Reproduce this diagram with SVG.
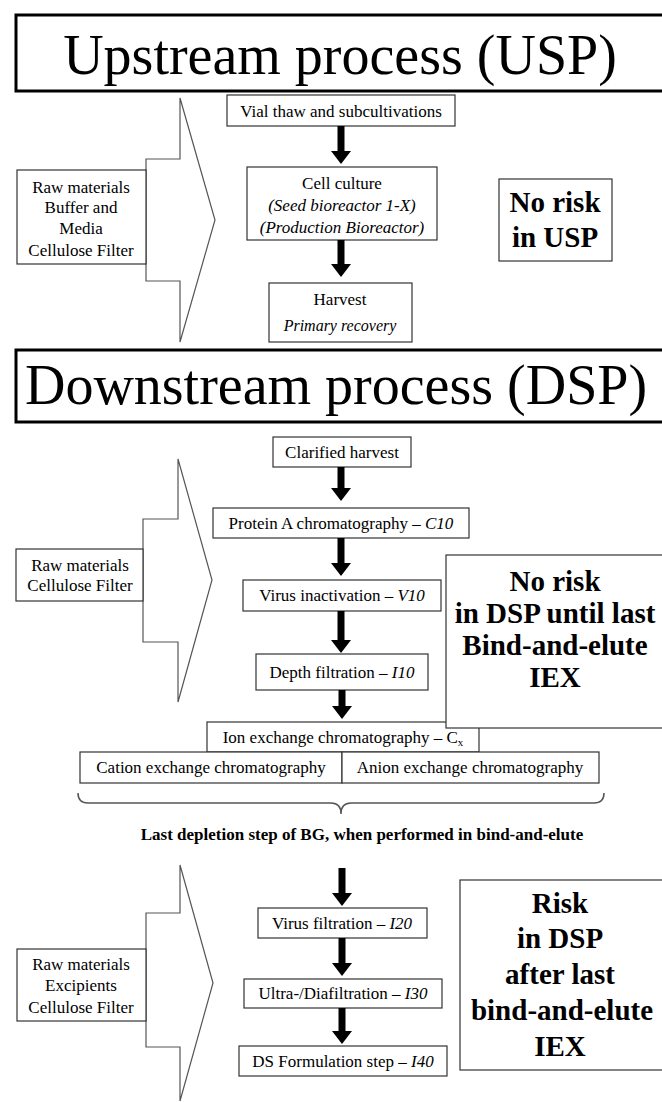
<svg xmlns="http://www.w3.org/2000/svg" width="662" height="1102" viewBox="0 0 662 1102">
  <defs>
    <marker id="head" markerUnits="userSpaceOnUse" markerWidth="13" markerHeight="20" viewBox="0 0 13 20" refX="0" refY="10" orient="auto">
      <path d="M0,0 L13,10 L0,20 Z" fill="#000"/>
    </marker>
  </defs>
  <style>
    text { font-family: "Liberation Serif", "Times New Roman", serif; fill: #000; }
    .hdr { fill: #fff; stroke: #000; stroke-width: 3; }
    .hdr-t { font-size: 56px; text-anchor: middle; }
    .box { fill: #fff; stroke: #333; stroke-width: 1.2; }
    .t { font-size: 17px; text-anchor: middle; }
    .ts { font-size: 16px; text-anchor: middle; }
    .it { font-style: italic; }
    .risk { font-size: 29px; font-weight: bold; text-anchor: middle; }
    .feed { fill: #fff; stroke: #555; stroke-width: 1.2; }
    .flow { stroke: #000; stroke-width: 7; fill: none; marker-end: url(#head); }
    .brace { fill: none; stroke: #555; stroke-width: 1.5; }
  </style>
  <rect width="662" height="1102" fill="#fff"/>

  <!-- Upstream section -->
  <g id="usp-header">
    <rect class="hdr" x="16" y="15" width="660" height="76"/>
    <text class="hdr-t" x="340" y="74">Upstream process (USP)</text>
  </g>

  <g id="usp-inputs">
    <path class="feed" d="M146,159 L180,159 L180,98 L215,220 L180,342 L180,281 L146,281 Z"/>
    <rect class="box" x="17" y="170" width="129" height="94"/>
    <text class="t" x="81" y="193">Raw materials</text>
    <text class="t" x="81" y="213">Buffer and</text>
    <text class="t" x="81" y="234">Media</text>
    <text class="t" x="81" y="256">Cellulose Filter</text>
  </g>

  <g id="vial-thaw">
    <rect class="box" x="227" y="95" width="228" height="31"/>
    <text class="t" x="341" y="117">Vial thaw and subcultivations</text>
  </g>

  <g id="cell-culture">
    <rect class="box" x="247" y="167" width="190" height="73"/>
    <text class="t" x="342" y="189">Cell culture</text>
    <text class="t it" x="342" y="211">(Seed bioreactor 1-X)</text>
    <text class="t it" x="342" y="233">(Production Bioreactor)</text>
  </g>

  <g id="harvest">
    <rect class="box" x="269" y="283" width="143" height="59"/>
    <text class="t" x="340" y="305">Harvest</text>
    <text class="ts it" x="340" y="331">Primary recovery</text>
  </g>

  <g id="usp-risk">
    <rect class="box" x="499" y="179" width="113" height="82"/>
    <text class="risk" x="555" y="212">No risk</text>
    <text class="risk" x="555" y="247">in USP</text>
  </g>

  <!-- Downstream section -->
  <g id="dsp-header">
    <rect class="hdr" x="16" y="350" width="660" height="72"/>
    <text class="hdr-t" x="336" y="404">Downstream process (DSP)</text>
  </g>

  <g id="dsp-inputs">
    <path class="feed" d="M143,519 L178,519 L178,459 L212,580 L178,702 L178,642 L143,642 Z"/>
    <rect class="box" x="16" y="549" width="127" height="52"/>
    <text class="t" x="80" y="571">Raw materials</text>
    <text class="t" x="80" y="591">Cellulose Filter</text>
  </g>

  <g id="clarified-harvest">
    <rect class="box" x="273" y="437" width="138" height="30"/>
    <text class="t" x="342" y="458">Clarified harvest</text>
  </g>

  <g id="protein-a">
    <rect class="box" x="213" y="508" width="256" height="30"/>
    <text class="t" x="341" y="529">Protein A chromatography – <tspan class="it">C10</tspan></text>
  </g>

  <g id="virus-inactivation">
    <rect class="box" x="243" y="580" width="198" height="31"/>
    <text class="t" x="342" y="601">Virus inactivation  – <tspan class="it">V10</tspan></text>
  </g>

  <g id="depth-filtration">
    <rect class="box" x="256" y="654" width="172" height="36"/>
    <text class="t" x="342" y="678">Depth filtration  – <tspan class="it">I10</tspan></text>
  </g>

  <g id="ion-exchange">
    <rect class="box" x="207" y="722" width="272" height="30"/>
    <text class="t" x="343" y="743">Ion exchange chromatography – C<tspan font-size="11" dy="3">x</tspan></text>
  </g>

  <g id="cation-exchange">
    <rect class="box" x="80" y="752" width="262" height="31"/>
    <text class="t" x="211" y="773">Cation exchange chromatography</text>
  </g>

  <g id="anion-exchange">
    <rect class="box" x="342" y="752" width="257" height="31"/>
    <text class="t" x="470" y="773">Anion exchange chromatography</text>
  </g>

  <g id="depletion-note">
    <path class="brace" d="M78,793 Q78,803 88,803 L331,803 Q341,803 341,814 Q341,803 351,803 L594,803 Q604,803 604,793"/>
    <text class="t" x="362" y="840" font-weight="bold">Last depletion step of BG, when performed in bind-and-elute</text>
  </g>

  <g id="dsp-risk-none">
    <rect class="box" x="446" y="555" width="220" height="173"/>
    <text class="risk" x="555" y="591">No risk</text>
    <text class="risk" x="555" y="623">in DSP until last</text>
    <text class="risk" x="555" y="655">Bind-and-elute</text>
    <text class="risk" x="555" y="687">IEX</text>
  </g>

  <g id="final-inputs">
    <path class="feed" d="M146,913 L180,913 L180,865 L213,983 L180,1101 L180,1047 L146,1047 Z"/>
    <rect class="box" x="17" y="949" width="129" height="72"/>
    <text class="t" x="81" y="970">Raw materials</text>
    <text class="t" x="81" y="991">Excipients</text>
    <text class="t" x="81" y="1013">Cellulose Filter</text>
  </g>

  <g id="virus-filtration">
    <rect class="box" x="258" y="908" width="169" height="30"/>
    <text class="t" x="342" y="929">Virus filtration  – <tspan class="it">I20</tspan></text>
  </g>

  <g id="ultra-diafiltration">
    <rect class="box" x="244" y="979" width="198" height="29"/>
    <text class="t" x="343" y="999">Ultra-/Diafiltration  – <tspan class="it">I30</tspan></text>
  </g>

  <g id="ds-formulation">
    <rect class="box" x="239" y="1046" width="208" height="30"/>
    <text class="t" x="343" y="1067">DS Formulation step – <tspan class="it">I40</tspan></text>
  </g>

  <g id="dsp-risk">
    <rect class="box" x="460" y="880" width="206" height="190"/>
    <text class="risk" x="560" y="913" font-size="30">Risk</text>
    <text class="risk" x="560" y="948" font-size="30">in DSP</text>
    <text class="risk" x="560" y="984" font-size="30">after last</text>
    <text class="risk" x="562" y="1020" font-size="30">bind-and-elute</text>
    <text class="risk" x="560" y="1056" font-size="30">IEX</text>
  </g>

  <!-- Process flow arrows -->
  <g id="connectors">
    <line class="flow" x1="341" y1="126" x2="341" y2="151"/>
    <line class="flow" x1="341" y1="240" x2="341" y2="264"/>
    <line class="flow" x1="341" y1="467" x2="341" y2="488"/>
    <line class="flow" x1="341" y1="538" x2="341" y2="563"/>
    <line class="flow" x1="341" y1="611" x2="341" y2="640"/>
    <line class="flow" x1="342" y1="690" x2="342" y2="706"/>
    <line class="flow" x1="342" y1="868" x2="342" y2="893"/>
    <line class="flow" x1="342" y1="938" x2="342" y2="963"/>
    <line class="flow" x1="342" y1="1008" x2="342" y2="1031"/>
  </g>
</svg>
